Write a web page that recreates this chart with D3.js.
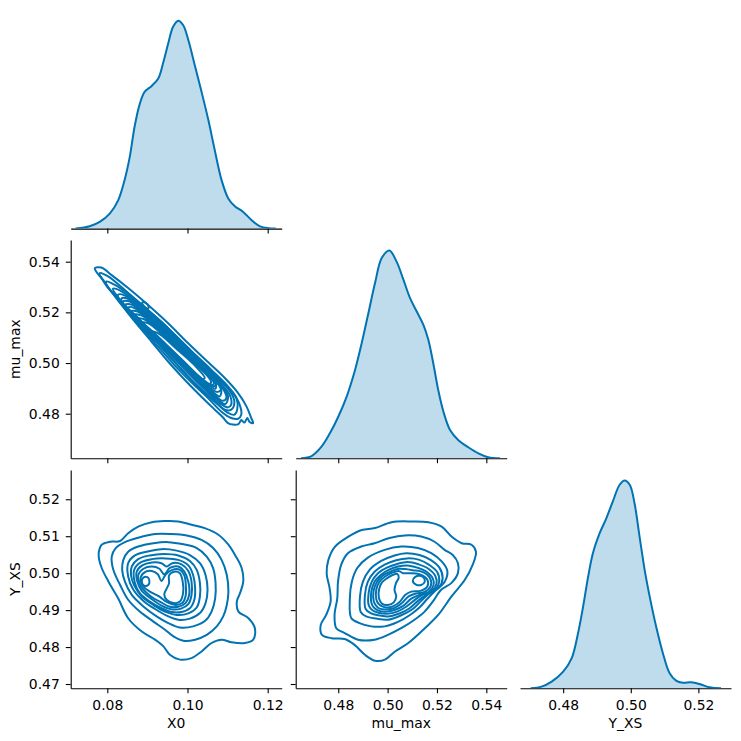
<!DOCTYPE html>
<html>
<head>
<meta charset="utf-8">
<script src="https://cdn.jsdelivr.net/npm/d3@7"></script>
<style>
  body { margin: 0; background: #fff; }
  text { font-family: "DejaVu Sans", sans-serif; }
</style>
</head>
<body>
<div id="chart"></div>
<script>
// Variable names and tick values
const varNames = ["X0", "mu_max", "Y_XS"];
const x0Ticks = [0.08, 0.10, 0.12];
const muTicks = [0.48, 0.50, 0.52, 0.54];
const yxsTicksX = [0.48, 0.50, 0.52];
const yxsTicksY = [0.47, 0.48, 0.49, 0.50, 0.51, 0.52];

// Marginal KDE curves: [value, relative density]
const x0Kde = [[0.0721,0],[0.0756,0.011],[0.0781,0.032],[0.0806,0.072],[0.0827,0.136],[0.0843,0.233],[0.0856,0.345],[0.0868,0.49],[0.0881,0.60],[0.0893,0.658],[0.0910,0.685],[0.0927,0.722],[0.0939,0.795],[0.0952,0.891],[0.0964,0.971],[0.0977,1.0],[0.0989,0.979],[0.1002,0.907],[0.1018,0.787],[0.1035,0.658],[0.1052,0.522],[0.1068,0.377],[0.1085,0.233],[0.1102,0.144],[0.1118,0.108],[0.1139,0.08],[0.1160,0.04],[0.1181,0.011],[0.1202,0.002],[0.1220,0]];
const muKde = [[0.4649,0],[0.4692,0.011],[0.4732,0.056],[0.4766,0.12],[0.4800,0.20],[0.4834,0.297],[0.4868,0.425],[0.4895,0.554],[0.4922,0.698],[0.4949,0.843],[0.4976,0.963],[0.5007,1.0],[0.5036,0.947],[0.5064,0.859],[0.5091,0.770],[0.5118,0.706],[0.5145,0.642],[0.5165,0.570],[0.5185,0.457],[0.5205,0.329],[0.5226,0.225],[0.5253,0.136],[0.5286,0.088],[0.5327,0.053],[0.5368,0.024],[0.5408,0.005],[0.5455,0]];
const yxsKde = [[0.4704,0],[0.4736,0.008],[0.4766,0.032],[0.4800,0.080],[0.4825,0.144],[0.4844,0.265],[0.4859,0.393],[0.4874,0.538],[0.4888,0.650],[0.4908,0.746],[0.4928,0.819],[0.4947,0.899],[0.4967,0.979],[0.4982,1.0],[0.4997,0.979],[0.5011,0.891],[0.5026,0.730],[0.5041,0.570],[0.5056,0.441],[0.5075,0.297],[0.5095,0.169],[0.5115,0.072],[0.5134,0.037],[0.5154,0.027],[0.5178,0.029],[0.5203,0.021],[0.5232,0.005],[0.5267,0]];

// Contour rings (X0 vs mu_max)
const x0MuRings = [
  [[0.0769,0.5375],[0.0785,0.5377],[0.0810,0.5348],[0.0852,0.5296],[0.0901,0.5230],[0.0951,0.5158],[0.1001,0.5079],[0.1051,0.5004],[0.1093,0.4941],[0.1124,0.4886],[0.1147,0.4829],[0.1159,0.4783],[0.1164,0.4763],[0.1155,0.4767],[0.1149,0.4783],[0.1142,0.4765],[0.1134,0.4775],[0.1127,0.4759],[0.1113,0.4757],[0.1101,0.4763],[0.1088,0.4786],[0.1068,0.4816],[0.1034,0.4868],[0.0993,0.4934],[0.0951,0.5007],[0.0910,0.5085],[0.0868,0.5164],[0.0835,0.5230],[0.0810,0.5283],[0.0789,0.5329],[0.0773,0.5359]],
  [[0.0781,0.5355],[0.0802,0.5342],[0.0843,0.5289],[0.0893,0.5220],[0.0943,0.5151],[0.0993,0.5070],[0.1043,0.4993],[0.1084,0.4930],[0.1113,0.4882],[0.1130,0.4836],[0.1134,0.4796],[0.1126,0.4780],[0.1109,0.4783],[0.1084,0.4809],[0.1051,0.4862],[0.1009,0.4925],[0.0968,0.4991],[0.0926,0.5066],[0.0885,0.5141],[0.0847,0.5210],[0.0818,0.5267],[0.0793,0.5316]],
  [[0.0798,0.5322],[0.0818,0.5309],[0.0860,0.5263],[0.0910,0.5197],[0.0960,0.5125],[0.1009,0.5049],[0.1059,0.4974],[0.1101,0.4908],[0.1122,0.4862],[0.1124,0.4816],[0.1117,0.4796],[0.1101,0.4803],[0.1076,0.4836],[0.1034,0.4895],[0.0993,0.4961],[0.0951,0.5033],[0.0910,0.5105],[0.0868,0.5178],[0.0835,0.5237],[0.0810,0.5283],[0.0798,0.5306]],
  [[0.0814,0.5293],[0.0831,0.5287],[0.0872,0.5241],[0.0922,0.5175],[0.0972,0.5101],[0.1022,0.5025],[0.1069,0.4951],[0.1105,0.4891],[0.1117,0.4846],[0.1109,0.4816],[0.1093,0.4816],[0.1064,0.4855],[0.1018,0.4921],[0.0976,0.4991],[0.0935,0.5066],[0.0893,0.5135],[0.0856,0.5201],[0.0827,0.5259]],
  [[0.0827,0.5270],[0.0843,0.5267],[0.0885,0.5217],[0.0935,0.5151],[0.0985,0.5075],[0.1034,0.5000],[0.1080,0.4925],[0.1105,0.4875],[0.1109,0.4836],[0.1101,0.4825],[0.1080,0.4842],[0.1043,0.4895],[0.1001,0.4961],[0.0960,0.5030],[0.0918,0.5099],[0.0877,0.5167],[0.0843,0.5223],[0.0828,0.5254]],
  [[0.0835,0.5254],[0.0850,0.5255],[0.0893,0.5201],[0.0943,0.5133],[0.0993,0.5057],[0.1043,0.4983],[0.1084,0.4913],[0.1101,0.4868],[0.1094,0.4838],[0.1076,0.4855],[0.1034,0.4914],[0.0993,0.4983],[0.0950,0.5053],[0.0908,0.5122],[0.0868,0.5184],[0.0837,0.5241]],
  [[0.0839,0.5243],[0.0856,0.5243],[0.0901,0.5184],[0.0951,0.5114],[0.1001,0.5039],[0.1051,0.4967],[0.1088,0.4901],[0.1097,0.4862],[0.1088,0.4851],[0.1068,0.4872],[0.1026,0.4934],[0.0980,0.5007],[0.0939,0.5075],[0.0897,0.5145],[0.0860,0.5204],[0.0842,0.5230]],
  [[0.0845,0.5230],[0.0862,0.5230],[0.0910,0.5170],[0.0960,0.5100],[0.1009,0.5026],[0.1058,0.4954],[0.1084,0.4899],[0.1080,0.4868],[0.1059,0.4892],[0.1016,0.4954],[0.0970,0.5025],[0.0926,0.5095],[0.0886,0.5160],[0.0850,0.5217]],
  [[0.0852,0.5219],[0.0868,0.5217],[0.0918,0.5154],[0.0968,0.5085],[0.1018,0.5013],[0.1064,0.4941],[0.1083,0.4895],[0.1074,0.4886],[0.1051,0.4908],[0.1005,0.4974],[0.0960,0.5043],[0.0914,0.5114],[0.0877,0.5178],[0.0854,0.5206]],
  [[0.0858,0.5204],[0.0877,0.5202],[0.0926,0.5139],[0.0976,0.5071],[0.1026,0.4999],[0.1068,0.4928],[0.1070,0.4899],[0.1043,0.4925],[0.0997,0.4991],[0.0951,0.5062],[0.0908,0.5128],[0.0872,0.5177]],
  [[0.0864,0.5191],[0.0885,0.5188],[0.0935,0.5125],[0.0985,0.5056],[0.1034,0.4983],[0.1072,0.4917],[0.1066,0.4908],[0.1034,0.4941],[0.0989,0.5009],[0.0943,0.5079],[0.0901,0.5141],[0.0868,0.5178]],
  [[0.0872,0.5174],[0.0893,0.5172],[0.0943,0.5109],[0.0993,0.5039],[0.1041,0.4967],[0.1066,0.4921],[0.1059,0.4912],[0.1030,0.4943],[0.0985,0.5012],[0.0939,0.5079],[0.0897,0.5135]],
  [[0.0881,0.5158],[0.0901,0.5158],[0.0951,0.5092],[0.1001,0.5022],[0.1047,0.4954],[0.1059,0.4925],[0.1053,0.4917],[0.1026,0.4947],[0.0980,0.5013],[0.0935,0.5079],[0.0893,0.5131]],
  [[0.0901,0.5125],[0.0926,0.5118],[0.0968,0.5062],[0.1018,0.4991],[0.1043,0.4941],[0.1034,0.4938],[0.1001,0.4980],[0.0960,0.5039],[0.0914,0.5099]],
  [[0.0887,0.5239],[0.0895,0.5238],[0.0903,0.5222],[0.0901,0.5214],[0.0895,0.5219],[0.0888,0.5231]]
];

// Contour rings (X0 vs Y_XS)
const x0YxsRings = [
  [[0.0779,0.5058],[0.0786,0.5077],[0.0807,0.5085],[0.0832,0.5087],[0.0852,0.5108],[0.0877,0.5126],[0.0911,0.5138],[0.0944,0.5141],[0.0977,0.5140],[0.1010,0.5131],[0.1043,0.5122],[0.1077,0.5104],[0.1102,0.5077],[0.1118,0.5050],[0.1135,0.5014],[0.1139,0.4977],[0.1131,0.4946],[0.1123,0.4923],[0.1127,0.4896],[0.1152,0.4878],[0.1168,0.4851],[0.1164,0.4820],[0.1143,0.4811],[0.1110,0.4813],[0.1085,0.4820],[0.1060,0.4811],[0.1035,0.4788],[0.1010,0.4770],[0.0981,0.4766],[0.0956,0.4779],[0.0940,0.4802],[0.0919,0.4820],[0.0886,0.4842],[0.0852,0.4878],[0.0827,0.4932],[0.0803,0.4977],[0.0786,0.5014],[0.0779,0.5041]],
  [[0.0811,0.5045],[0.0821,0.5068],[0.0844,0.5084],[0.0877,0.5096],[0.0919,0.5106],[0.0960,0.5106],[0.0998,0.5102],[0.1035,0.5090],[0.1064,0.5068],[0.1085,0.5036],[0.1098,0.4995],[0.1102,0.4950],[0.1098,0.4914],[0.1089,0.4883],[0.1073,0.4856],[0.1048,0.4833],[0.1019,0.4820],[0.0990,0.4817],[0.0965,0.4829],[0.0944,0.4847],[0.0915,0.4869],[0.0881,0.4896],[0.0852,0.4928],[0.0832,0.4968],[0.0815,0.5009]],
  [[0.0840,0.5036],[0.0852,0.5058],[0.0877,0.5072],[0.0915,0.5081],[0.0952,0.5084],[0.0990,0.5078],[0.1023,0.5068],[0.1048,0.5045],[0.1064,0.5013],[0.1070,0.4973],[0.1069,0.4932],[0.1060,0.4896],[0.1044,0.4871],[0.1014,0.4856],[0.0981,0.4853],[0.0952,0.4865],[0.0923,0.4883],[0.0890,0.4910],[0.0861,0.4941],[0.0844,0.4977],[0.0837,0.5009]],
  [[0.0852,0.5027],[0.0869,0.5048],[0.0898,0.5058],[0.0935,0.5065],[0.0973,0.5061],[0.1006,0.5049],[0.1031,0.5027],[0.1045,0.4995],[0.1050,0.4955],[0.1045,0.4919],[0.1031,0.4892],[0.1006,0.4877],[0.0977,0.4874],[0.0948,0.4885],[0.0919,0.4903],[0.0890,0.4925],[0.0865,0.4955],[0.0852,0.4991]],
  [[0.0861,0.5018],[0.0877,0.5038],[0.0906,0.5048],[0.0940,0.5052],[0.0977,0.5048],[0.1006,0.5033],[0.1023,0.5009],[0.1031,0.4973],[0.1031,0.4937],[0.1023,0.4907],[0.1002,0.4891],[0.0973,0.4887],[0.0944,0.4896],[0.0915,0.4914],[0.0886,0.4937],[0.0867,0.4967],[0.0859,0.4995]],
  [[0.0867,0.5009],[0.0883,0.5029],[0.0911,0.5038],[0.0944,0.5040],[0.0977,0.5036],[0.1002,0.5021],[0.1014,0.4995],[0.1019,0.4959],[0.1017,0.4928],[0.1006,0.4905],[0.0985,0.4895],[0.0960,0.4895],[0.0935,0.4905],[0.0906,0.4923],[0.0881,0.4946],[0.0869,0.4973]],
  [[0.0873,0.5003],[0.0887,0.5021],[0.0911,0.5029],[0.0935,0.5027],[0.0948,0.5018],[0.0962,0.5027],[0.0985,0.5024],[0.1002,0.5006],[0.1010,0.4977],[0.1010,0.4941],[0.1002,0.4916],[0.0984,0.4904],[0.0960,0.4902],[0.0935,0.4912],[0.0909,0.4931],[0.0886,0.4952],[0.0875,0.4977]],
  [[0.0877,0.4995],[0.0890,0.5012],[0.0911,0.5018],[0.0930,0.5012],[0.0942,0.4997],[0.0956,0.5014],[0.0977,0.5018],[0.0992,0.5004],[0.1002,0.4977],[0.1004,0.4941],[0.0995,0.4919],[0.0977,0.4909],[0.0956,0.4909],[0.0934,0.4921],[0.0909,0.4937],[0.0888,0.4958],[0.0879,0.4977]],
  [[0.0883,0.4988],[0.0894,0.5003],[0.0911,0.5006],[0.0926,0.4997],[0.0935,0.4979],[0.0946,0.4997],[0.0962,0.5009],[0.0981,0.5009],[0.0992,0.4994],[0.0996,0.4964],[0.0995,0.4937],[0.0987,0.4919],[0.0969,0.4914],[0.0948,0.4922],[0.0929,0.4937],[0.0906,0.4950],[0.0890,0.4964]],
  [[0.0886,0.4977],[0.0890,0.4988],[0.0900,0.4989],[0.0905,0.4979],[0.0902,0.4968],[0.0892,0.4966]],
  [[0.0954,0.4994],[0.0967,0.5004],[0.0981,0.5000],[0.0988,0.4977],[0.0989,0.4946],[0.0981,0.4923],[0.0965,0.4919],[0.0948,0.4928],[0.0942,0.4943],[0.0948,0.4958],[0.0954,0.4973]]
];

// Contour rings (mu_max vs Y_XS)
const muYxsRings = [
  [[0.4760,0.5036],[0.4753,0.5000],[0.4765,0.4959],[0.4769,0.4923],[0.4751,0.4887],[0.4729,0.4860],[0.4734,0.4833],[0.4773,0.4824],[0.4826,0.4822],[0.4866,0.4806],[0.4908,0.4779],[0.4949,0.4763],[0.4989,0.4766],[0.5030,0.4788],[0.5084,0.4811],[0.5151,0.4851],[0.5205,0.4887],[0.5259,0.4937],[0.5313,0.4982],[0.5345,0.5023],[0.5358,0.5058],[0.5340,0.5077],[0.5300,0.5081],[0.5259,0.5099],[0.5219,0.5126],[0.5165,0.5138],[0.5097,0.5140],[0.5016,0.5138],[0.4949,0.5122],[0.4895,0.5117],[0.4841,0.5099],[0.4787,0.5072]],
  [[0.4792,0.4851],[0.4785,0.4887],[0.4796,0.4932],[0.4799,0.4977],[0.4812,0.5023],[0.4839,0.5054],[0.4893,0.5072],[0.4947,0.5081],[0.5008,0.5095],[0.5069,0.5102],[0.5136,0.5099],[0.5190,0.5085],[0.5231,0.5063],[0.5264,0.5049],[0.5285,0.5027],[0.5285,0.5000],[0.5258,0.4973],[0.5217,0.4955],[0.5183,0.4923],[0.5150,0.4896],[0.5109,0.4874],[0.5055,0.4851],[0.5001,0.4833],[0.4947,0.4820],[0.4880,0.4820],[0.4826,0.4838]],
  [[0.4853,0.4878],[0.4847,0.4932],[0.4855,0.4977],[0.4877,0.5014],[0.4920,0.5042],[0.4988,0.5063],[0.5055,0.5072],[0.5123,0.5068],[0.5177,0.5054],[0.5220,0.5031],[0.5242,0.5006],[0.5231,0.4976],[0.5197,0.4955],[0.5163,0.4932],[0.5129,0.4907],[0.5089,0.4886],[0.5042,0.4868],[0.4988,0.4856],[0.4934,0.4856],[0.4886,0.4865]],
  [[0.4891,0.4895],[0.4888,0.4937],[0.4900,0.4977],[0.4927,0.5009],[0.4974,0.5033],[0.5028,0.5048],[0.5075,0.5054],[0.5129,0.5049],[0.5174,0.5036],[0.5210,0.5015],[0.5223,0.4986],[0.5208,0.4961],[0.5170,0.4946],[0.5136,0.4925],[0.5102,0.4903],[0.5055,0.4886],[0.5001,0.4874],[0.4954,0.4877],[0.4913,0.4883]],
  [[0.4911,0.4903],[0.4908,0.4941],[0.4920,0.4977],[0.4947,0.5004],[0.4988,0.5023],[0.5035,0.5035],[0.5080,0.5040],[0.5129,0.5036],[0.5167,0.5023],[0.5201,0.5003],[0.5209,0.4977],[0.5193,0.4955],[0.5156,0.4941],[0.5123,0.4925],[0.5089,0.4905],[0.5048,0.4891],[0.5001,0.4883],[0.4961,0.4886],[0.4931,0.4892]],
  [[0.4924,0.4912],[0.4923,0.4946],[0.4936,0.4977],[0.4961,0.5000],[0.4997,0.5015],[0.5039,0.5025],[0.5082,0.5030],[0.5125,0.5024],[0.5161,0.5014],[0.5193,0.4993],[0.5198,0.4971],[0.5179,0.4952],[0.5140,0.4941],[0.5109,0.4927],[0.5075,0.4909],[0.5039,0.4896],[0.4998,0.4890],[0.4963,0.4893],[0.4940,0.4899]],
  [[0.4935,0.4918],[0.4934,0.4950],[0.4947,0.4977],[0.4972,0.4995],[0.5004,0.5009],[0.5042,0.5018],[0.5080,0.5021],[0.5120,0.5015],[0.5152,0.5006],[0.5183,0.4986],[0.5186,0.4967],[0.5166,0.4949],[0.5129,0.4941],[0.5096,0.4931],[0.5066,0.4913],[0.5031,0.4901],[0.4996,0.4896],[0.4966,0.4898],[0.4947,0.4905]],
  [[0.4944,0.4923],[0.4943,0.4952],[0.4957,0.4977],[0.4981,0.4994],[0.5011,0.5004],[0.5045,0.5012],[0.5071,0.5011],[0.5102,0.5008],[0.5143,0.5003],[0.5173,0.4985],[0.5174,0.4964],[0.5150,0.4949],[0.5116,0.4945],[0.5085,0.4937],[0.5058,0.4919],[0.5025,0.4905],[0.4994,0.4902],[0.4967,0.4904],[0.4953,0.4912]],
  [[0.4954,0.4930],[0.4954,0.4955],[0.4967,0.4977],[0.4990,0.4991],[0.5017,0.5001],[0.5045,0.5006],[0.5062,0.5000],[0.5089,0.5000],[0.5129,0.4997],[0.5161,0.4982],[0.5161,0.4964],[0.5133,0.4952],[0.5096,0.4950],[0.5071,0.4941],[0.5050,0.4923],[0.5021,0.4910],[0.4994,0.4907],[0.4972,0.4912],[0.4961,0.4919]],
  [[0.5102,0.4979],[0.5112,0.4990],[0.5131,0.4993],[0.5147,0.4987],[0.5150,0.4976],[0.5136,0.4968],[0.5115,0.4969]],
  [[0.4965,0.4932],[0.4965,0.4955],[0.4977,0.4975],[0.4997,0.4986],[0.5020,0.4995],[0.5039,0.4998],[0.5045,0.4988],[0.5034,0.4973],[0.5028,0.4955],[0.5035,0.4937],[0.5025,0.4921],[0.5001,0.4914],[0.4978,0.4917]]
];

// Layout
const width = 741, height = 741;
const colLeft = [70.7, 295.7, 520];
const rowTop = [10.3, 240, 470];
const axW = 211, axH = 218.3;
const color = "#0173b2";
const fontSize = "13.9px";
const fmt = d3.format(".2f");

const svg = d3.select("#chart").append("svg")
  .attr("width", width)
  .attr("height", height);

// x scales per column
const xScales = [
  d3.scaleLinear().domain([0.07087, 0.12349]).range([colLeft[0], colLeft[0] + axW]),
  d3.scaleLinear().domain([0.46275, 0.54826]).range([colLeft[1], colLeft[1] + axW]),
  d3.scaleLinear().domain([0.46723, 0.52965]).range([colLeft[2], colLeft[2] + axW])
];
const xTicks = [x0Ticks, muTicks, yxsTicksX];

// y scales per row (rows 2 and 3)
const yMu = d3.scaleLinear().domain([0.4624, 0.54856]).range([rowTop[1] + axH, rowTop[1]]);
const yYxs = d3.scaleLinear().domain([0.46884, 0.52792]).range([rowTop[2] + axH, rowTop[2]]);

// clip paths for each panel
const defs = svg.append("defs");
for (let r = 0; r < 3; r++) {
  for (let c = 0; c <= r; c++) {
    defs.append("clipPath").attr("id", `clip-${r}-${c}`)
      .append("rect")
      .attr("x", colLeft[c]).attr("y", rowTop[r])
      .attr("width", axW).attr("height", axH);
  }
}

function styleAxis(g) {
  g.selectAll(".domain").attr("stroke", "#000").attr("stroke-width", 1.1);
  g.selectAll(".tick line").attr("stroke", "#000").attr("stroke-width", 1.1);
  g.selectAll(".tick text").attr("fill", "#000").style("font-size", fontSize);
}

// x axes along the bottom of every panel
for (let r = 0; r < 3; r++) {
  for (let c = 0; c <= r; c++) {
    const showLabels = r === 2;
    const g = svg.append("g")
      .attr("transform", `translate(0,${rowTop[r] + axH})`)
      .call(d3.axisBottom(xScales[c])
        .tickValues(xTicks[c])
        .tickSize(4.9)
        .tickSizeOuter(0)
        .tickPadding(7.4)
        .tickFormat(showLabels ? fmt : () => ""));
    styleAxis(g);
  }
}

// y axes on off-diagonal panels
const yRows = [null, yMu, yYxs];
const yTicksRows = [null, muTicks, yxsTicksY];
for (let r = 1; r < 3; r++) {
  for (let c = 0; c < r; c++) {
    const g = svg.append("g")
      .attr("transform", `translate(${colLeft[c]},0)`)
      .call(d3.axisLeft(yRows[r])
        .tickValues(yTicksRows[r])
        .tickSize(4.9)
        .tickSizeOuter(0)
        .tickPadding(6)
        .tickFormat(c === 0 ? fmt : () => ""));
    styleAxis(g);
  }
}

// Diagonal KDE plots
const kdes = [x0Kde, muKde, yxsKde];
kdes.forEach((kde, i) => {
  const x = xScales[i];
  const y = d3.scaleLinear().domain([0, 1.05]).range([rowTop[i] + axH, rowTop[i]]);
  const g = svg.append("g").attr("clip-path", `url(#clip-${i}-${i})`);
  g.append("path")
    .datum(kde)
    .attr("fill", color)
    .attr("fill-opacity", 0.25)
    .attr("d", d3.area().x(d => x(d[0])).y0(y(0)).y1(d => y(d[1])).curve(d3.curveCatmullRom));
  g.append("path")
    .datum(kde)
    .attr("fill", "none")
    .attr("stroke", color)
    .attr("stroke-width", 2)
    .attr("d", d3.line().x(d => x(d[0])).y(d => y(d[1])).curve(d3.curveCatmullRom));
});

// Off-diagonal contour plots
function drawRings(rings, r, c, x, y) {
  const line = d3.line()
    .x(d => x(d[0]))
    .y(d => y(d[1]))
    .curve(d3.curveCatmullRomClosed.alpha(0.5));
  svg.append("g")
    .attr("clip-path", `url(#clip-${r}-${c})`)
    .selectAll("path")
    .data(rings)
    .join("path")
    .attr("fill", "none")
    .attr("stroke", color)
    .attr("stroke-width", 2)
    .attr("stroke-linejoin", "round")
    .attr("d", line);
}
drawRings(x0MuRings, 1, 0, xScales[0], yMu);
drawRings(x0YxsRings, 2, 0, xScales[0], yYxs);
drawRings(muYxsRings, 2, 1, xScales[1], yYxs);

// Axis labels
varNames.forEach((name, i) => {
  svg.append("text")
    .attr("x", colLeft[i] + axW / 2)
    .attr("y", 728)
    .attr("text-anchor", "middle")
    .style("font-size", fontSize)
    .attr("fill", "#000")
    .text(name);
});
[1, 2].forEach(r => {
  svg.append("text")
    .attr("transform", `translate(20.3,${rowTop[r] + axH / 2}) rotate(-90)`)
    .attr("text-anchor", "middle")
    .style("font-size", fontSize)
    .attr("fill", "#000")
    .text(varNames[r]);
});
</script>
</body>
</html>
